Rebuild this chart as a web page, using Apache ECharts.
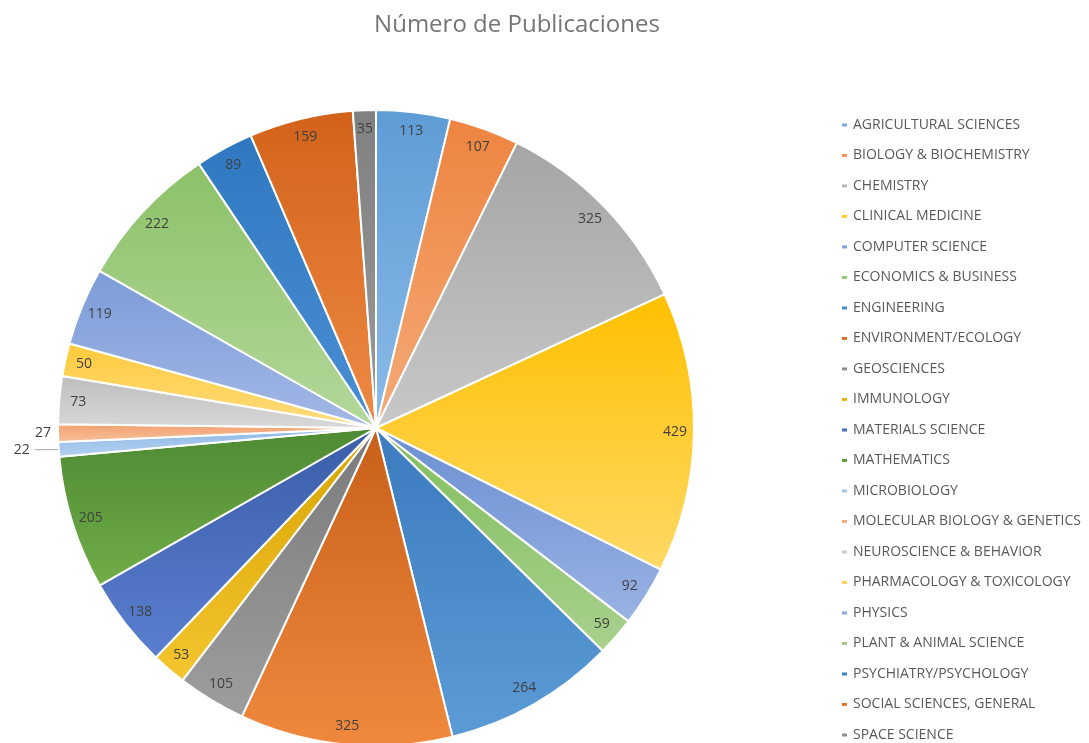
<!DOCTYPE html>
<html>
<head>
<meta charset="utf-8">
<title>Número de Publicaciones</title>
<script src="https://cdn.jsdelivr.net/npm/echarts@6/dist/echarts.min.js"></script>
<style>
  html, body { margin: 0; padding: 0; background: #fff; }
  #chart { width: 1089px; height: 743px; }
</style>
</head>
<body>
<div id="chart"></div>
<script>
const categories = [
  "AGRICULTURAL SCIENCES", "BIOLOGY & BIOCHEMISTRY", "CHEMISTRY", "CLINICAL MEDICINE",
  "COMPUTER SCIENCE", "ECONOMICS & BUSINESS", "ENGINEERING", "ENVIRONMENT/ECOLOGY",
  "GEOSCIENCES", "IMMUNOLOGY", "MATERIALS SCIENCE", "MATHEMATICS", "MICROBIOLOGY",
  "MOLECULAR BIOLOGY & GENETICS", "NEUROSCIENCE & BEHAVIOR", "PHARMACOLOGY & TOXICOLOGY",
  "PHYSICS", "PLANT & ANIMAL SCIENCE", "PSYCHIATRY/PSYCHOLOGY", "SOCIAL SCIENCES, GENERAL",
  "SPACE SCIENCE"
]
const publicaciones = [113, 107, 325, 429, 92, 59, 264, 325, 105, 53, 138, 205, 22, 27, 73, 50, 119, 222, 89, 159, 35]

// gradiente vertical estilo Excel: arriba más oscuro, abajo más claro
const topColors = [
  "#5e9cd6", "#ee8440", "#a5a5a5", "#ffc000", "#6a8fd3", "#80be5c", "#3b7bbf",
  "#c9601a", "#7a7a7a", "#d6a300", "#3a5da8", "#4e8a33", "#8db9e6", "#f2a070",
  "#bdbdbd", "#ffca3a", "#7c9bd8", "#8cc168", "#2f78c0", "#d2621a", "#808080"
]
const bottomColors = [
  "#8cbbe8", "#f4aa78", "#c8c8c8", "#ffd966", "#9ab3e3", "#a9d18e", "#5b9bd5",
  "#f0883e", "#9e9e9e", "#f5c530", "#5b7fd0", "#70ad47", "#b4d0f0", "#f7c09a",
  "#d9d9d9", "#ffdc80", "#a3b8e6", "#b4d89b", "#4a8fd4", "#ee8a45", "#9a9a9a"
]

const cx = 376, cy = 428, R = 318

const chart = echarts.init(document.getElementById("chart"))

const mainData = categories.map((name, i) => ({
  name,
  value: publicaciones[i],
  itemStyle: {
    color: {
      type: "linear", x: 0, y: 0, x2: 0, y2: 1,
      colorStops: [
        { offset: 0, color: topColors[i] },
        { offset: 1, color: bottomColors[i] }
      ]
    }
  }
}))

// serie transparente solo para colocar las etiquetas cerca del borde
const labelData = categories.map((name, i) => {
  const item = { name, value: publicaciones[i] }
  if (name === "MICROBIOLOGY") {
    item.label = { position: "outside" }
    item.labelLine = { show: true, length: 4, length2: 20, lineStyle: { color: "#a6a6a6", width: 1 } }
  } else if (name === "MOLECULAR BIOLOGY & GENETICS") {
    item.label = { position: "outside" }
    item.labelLine = { show: false, length: 2, length2: 0 }
  }
  return item
})

chart.setOption({
  animation: false,
  title: {
    text: "Número de Publicaciones",
    left: 512,
    top: 8,
    textAlign: "center",
    textStyle: {
      color: "#757575",
      fontSize: 24,
      fontWeight: "normal",
      fontFamily: "Open Sans"
    }
  },
  legend: {
    orient: "vertical",
    left: 840,
    top: 117,
    height: 640,
    padding: 0,
    icon: "rect",
    itemWidth: 7,
    itemHeight: 5,
    itemGap: 14.5,
    selectedMode: false,
    textStyle: {
      color: "#595959",
      fontSize: 14,
      lineHeight: 16,
      fontFamily: "Open Sans"
    },
    data: categories
  },
  series: [
    {
      name: "Publicaciones",
      type: "pie",
      center: [cx, cy],
      radius: [0, R],
      startAngle: 90,
      clockwise: true,
      label: { show: false },
      labelLine: { show: false },
      itemStyle: { borderColor: "#fff", borderWidth: 2 },
      emphasis: { disabled: true },
      data: mainData
    },
    {
      name: "etiquetas",
      type: "pie",
      center: [cx, cy],
      radius: [R - 44, R],
      startAngle: 90,
      clockwise: true,
      silent: true,
      avoidLabelOverlap: false,
      legendHoverLink: false,
      itemStyle: { color: "rgba(0,0,0,0)", borderWidth: 0 },
      label: {
        show: true,
        position: "inside",
        color: "#404040",
        fontSize: 14,
        fontFamily: "Open Sans",
        formatter: "{c}"
      },
      labelLine: { show: false },
      emphasis: { disabled: true },
      data: labelData
    }
  ]
})

window.addEventListener("resize", () => {
  chart.resize()
})
</script>
</body>
</html>
